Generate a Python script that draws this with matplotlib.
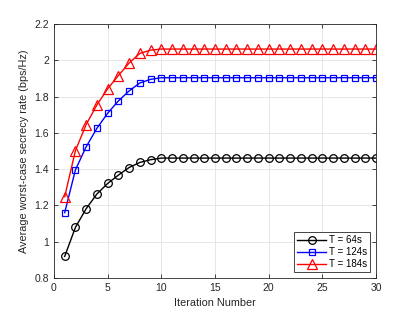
import numpy as np
import matplotlib
matplotlib.use("Agg")
import matplotlib.pyplot as plt

plt.rcParams['font.family'] = ['Liberation Sans', 'DejaVu Sans']

# iteration index and rates
iters = np.arange(1, 31)
rate_64 = [0.919, 1.079, 1.182, 1.263, 1.321, 1.367, 1.409, 1.437, 1.452] + [1.461] * 21
rate_124 = [1.160, 1.396, 1.523, 1.625, 1.708, 1.776, 1.831, 1.875, 1.895] + [1.904] * 21
rate_184 = [1.248, 1.502, 1.646, 1.754, 1.843, 1.916, 1.985, 2.038, 2.056] + [2.062] * 21
labels = ["T = 64s", "T = 124s", "T = 184s"]

fig = plt.figure(figsize=(4.15, 3.12), dpi=100)
ax = fig.add_axes([0.130, 0.109, 0.776, 0.814])

ax.plot(iters, rate_64, '-o', color='black', lw=1.0, ms=5.5, mfc='none', mew=0.9, label=labels[0])
ax.plot(iters, rate_124, '-s', color='blue', lw=1.0, ms=4.5, mfc='none', mew=0.9, label=labels[1])
ax.plot(iters, rate_184, '-^', color='red', lw=1.0, ms=6.5, mfc='none', mew=0.9, label=labels[2])

ax.set_xlim(0, 30)
ax.set_ylim(0.8, 2.2)
ax.set_xticks(np.arange(0, 31, 5))
ax.set_yticks(np.arange(0.8, 2.21, 0.2))
ax.set_yticklabels(["0.8", "1", "1.2", "1.4", "1.6", "1.8", "2", "2.2"])
ax.grid(True, color='#e6e6e6', lw=0.7)
ax.set_axisbelow(True)
ax.tick_params(direction='in', top=True, right=True, labelsize=7.5, colors='#262626', length=3, width=0.6)
for s in ax.spines.values():
    s.set_color('#262626')
    s.set_linewidth(0.6)

ax.set_xlabel("Iteration Number", fontsize=7.8, color='#262626')
ax.set_ylabel("Average worst-case secrecy rate (bps/Hz)", fontsize=7.8, color='#262626')

leg = ax.legend(loc='lower right', fontsize=7, fancybox=False, edgecolor='#262626',
                framealpha=1, handlelength=3.0, borderpad=0.3, labelspacing=0.2,
                handletextpad=0.3, borderaxespad=0.6)
leg.get_frame().set_linewidth(0.6)

fig.savefig("out.png", dpi=100)
